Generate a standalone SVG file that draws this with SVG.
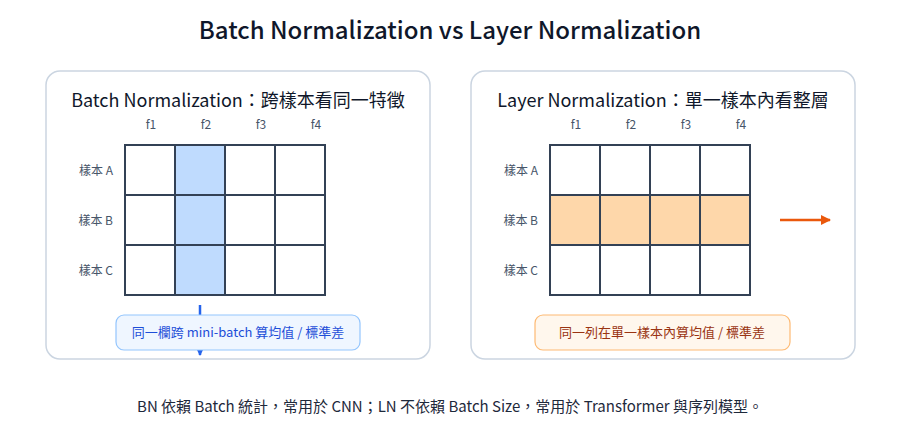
<svg xmlns="http://www.w3.org/2000/svg" width="900" height="440" viewBox="0 0 900 440" lang="zh-TW" xml:lang="zh-TW">
<defs>
<style>
text{font-family:"Noto Sans CJK TC","Noto Sans",sans-serif;}
.title{font-size:24px;font-weight:500;fill:#0f172a;text-anchor:middle;}
.ptitle{font-size:18px;font-weight:400;fill:#0f172a;text-anchor:middle;}
.panel{fill:#ffffff;stroke:#cbd5e1;stroke-width:1.5;}
.col{font-size:12px;fill:#475569;text-anchor:middle;}
.row{font-size:12px;fill:#475569;text-anchor:end;}
.cell{fill:#ffffff;stroke:#334155;stroke-width:2;}
.bn{fill:#bfdbfe;stroke:#334155;stroke-width:2;}
.ln{fill:#fed7aa;stroke:#334155;stroke-width:2;}
.caption{font-size:15px;fill:#1e293b;text-anchor:middle;}
.note{font-size:13px;font-weight:400;text-anchor:middle;}
</style>
<marker id="ab" viewBox="0 0 10 10" refX="9" refY="5" markerWidth="4" markerHeight="4" orient="auto"><path d="M0,0L10,5L0,10z" fill="#2563eb"/></marker>
<marker id="ao" viewBox="0 0 10 10" refX="9" refY="5" markerWidth="4" markerHeight="4" orient="auto"><path d="M0,0L10,5L0,10z" fill="#ea580c"/></marker>
</defs>
<rect width="900" height="440" fill="#ffffff"/>
<text class="title" x="450" y="39">Batch Normalization vs Layer Normalization</text>

<g id="bn-panel">
<rect class="panel" x="46" y="71" width="384" height="288" rx="14"/>
<text class="ptitle" x="238" y="107">Batch Normalization：跨樣本看同一特徵</text>
<text class="col" x="151" y="129">f1</text>
<text class="col" x="206" y="129">f2</text>
<text class="col" x="261" y="129">f3</text>
<text class="col" x="316" y="129">f4</text>
<text class="row" x="113" y="175">樣本 A</text>
<text class="row" x="113" y="225">樣本 B</text>
<text class="row" x="113" y="275">樣本 C</text>
</g>
<g id="bn-grid">
<rect class="cell" x="125" y="145" width="50" height="50"/>
<rect class="bn" x="175" y="145" width="50" height="50"/>
<rect class="cell" x="225" y="145" width="50" height="50"/>
<rect class="cell" x="275" y="145" width="50" height="50"/>
<rect class="cell" x="125" y="195" width="50" height="50"/>
<rect class="bn" x="175" y="195" width="50" height="50"/>
<rect class="cell" x="225" y="195" width="50" height="50"/>
<rect class="cell" x="275" y="195" width="50" height="50"/>
<rect class="cell" x="125" y="245" width="50" height="50"/>
<rect class="bn" x="175" y="245" width="50" height="50"/>
<rect class="cell" x="225" y="245" width="50" height="50"/>
<rect class="cell" x="275" y="245" width="50" height="50"/>
</g>

<g id="ln-panel">
<rect class="panel" x="471" y="71" width="384" height="288" rx="14"/>
<text class="ptitle" x="663" y="107">Layer Normalization：單一樣本內看整層</text>
<text class="col" x="576" y="129">f1</text>
<text class="col" x="631" y="129">f2</text>
<text class="col" x="686" y="129">f3</text>
<text class="col" x="741" y="129">f4</text>
<text class="row" x="538" y="175">樣本 A</text>
<text class="row" x="538" y="225">樣本 B</text>
<text class="row" x="538" y="275">樣本 C</text>
</g>
<g id="ln-grid">
<rect class="cell" x="550" y="145" width="50" height="50"/>
<rect class="cell" x="600" y="145" width="50" height="50"/>
<rect class="cell" x="650" y="145" width="50" height="50"/>
<rect class="cell" x="700" y="145" width="50" height="50"/>
<rect class="ln" x="550" y="195" width="50" height="50"/>
<rect class="ln" x="600" y="195" width="50" height="50"/>
<rect class="ln" x="650" y="195" width="50" height="50"/>
<rect class="ln" x="700" y="195" width="50" height="50"/>
<rect class="cell" x="550" y="245" width="50" height="50"/>
<rect class="cell" x="600" y="245" width="50" height="50"/>
<rect class="cell" x="650" y="245" width="50" height="50"/>
<rect class="cell" x="700" y="245" width="50" height="50"/>
</g>

<g id="connectors">
<line x1="200" y1="305" x2="200" y2="355" stroke="#2563eb" stroke-width="2.5" marker-end="url(#ab)"/>
<line x1="780" y1="220" x2="830" y2="220" stroke="#ea580c" stroke-width="2.5" marker-end="url(#ao)"/>
</g>

<g id="bn-note">
<rect x="116" y="315" width="244" height="35" rx="8" fill="#eff6ff" stroke="#93c5fd" stroke-width="1.2"/>
<text class="note" x="238" y="337" fill="#1d4ed8">同一欄跨 mini-batch 算均值 / 標準差</text>
</g>
<g id="ln-note">
<rect x="535" y="315" width="255" height="35" rx="8" fill="#fff7ed" stroke="#fdba74" stroke-width="1.2"/>
<text class="note" x="662" y="337" fill="#9a3412">同一列在單一樣本內算均值 / 標準差</text>
</g>

<text class="caption" x="450" y="412">BN 依賴 Batch 統計，常用於 CNN；LN 不依賴 Batch Size，常用於 Transformer 與序列模型。</text>
</svg>
